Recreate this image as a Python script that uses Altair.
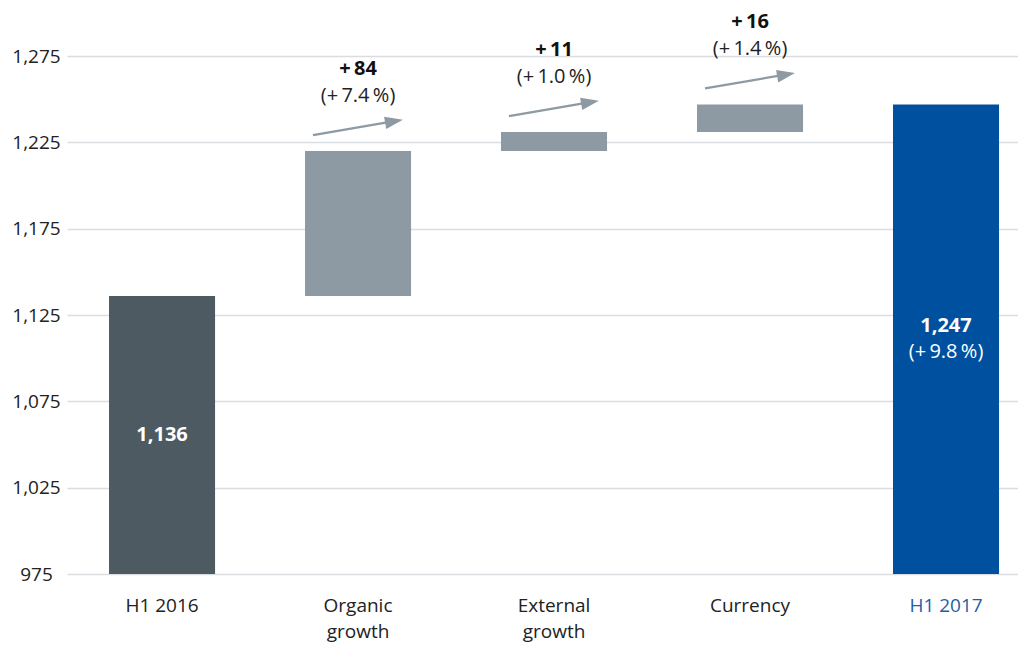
import altair as alt
import pandas as pd

categories = ["H1 2016", "Organic growth", "External growth", "Currency", "H1 2017"]
base_value = 1136
deltas = [84, 11, 16]
total_value = 1247
axis_floor = 975
delta_labels = ["+\u200984", "+\u200911", "+\u200916"]
pct_labels = ["(+\u20097.4\u2009%)", "(+\u20091.0\u2009%)", "(+\u20091.4\u2009%)"]
total_pct = "(+\u20099.8\u2009%)"
bar_colors = ["#4d5a61", "#8d9aa3", "#8d9aa3", "#8d9aa3", "#0050a0"]
y_ticks = [975, 1025, 1075, 1125, 1175, 1225, 1275]

# build bar table
starts, ends = [axis_floor], [base_value]
run = base_value
for d in deltas:
    starts.append(run)
    run += d
    ends.append(run)
starts.append(axis_floor)
ends.append(total_value)

bars_df = pd.DataFrame({"cat": categories, "start": starts, "end": ends})
steps_df = pd.DataFrame({
    "cat": categories[1:4],
    "top": ends[1:4],
    "dlab": delta_labels,
    "plab": pct_labels,
})
first_df = pd.DataFrame({
    "cat": ["H1 2016"],
    "mid": [(axis_floor + base_value) / 2],
    "main": ["1,136"],
})
last_df = pd.DataFrame({
    "cat": ["H1 2017"],
    "mid": [(axis_floor + total_value) / 2],
    "main": ["1,247"],
    "sub": [total_pct],
})

FONT = "Open Sans"
GRAY = "#8d9aa3"

xscale = alt.Scale(domain=categories, paddingInner=0.459, paddingOuter=0.1556, align=0.689)
yscale = alt.Scale(domain=[975, 1300], nice=False, zero=False)

x_enc = alt.X(
    "cat:N", scale=xscale, sort=categories, title=None,
    axis=alt.Axis(
        labelAngle=0, domain=False, ticks=False, labelPadding=22,
        labelFontSize=19, labelFont=FONT, labelLineHeight=26, labelBaseline="top",
        labelColor=alt.expr("datum.value == 'H1 2017' ? '#1f5ea8' : '#222222'"),
        labelExpr="indexof(datum.label, 'growth') > 0 ? split(datum.label, ' ') : datum.label",
    ),
)

def xc():
    return alt.X("cat:N", scale=xscale, sort=categories)

bars = alt.Chart(bars_df).mark_bar().encode(
    x=x_enc,
    y=alt.Y(
        "start:Q", scale=yscale, title=None,
        axis=alt.Axis(
            values=y_ticks, format=",d", domain=False, ticks=False, grid=True,
            gridColor="#d9dde1", gridWidth=1.5, labelAlign="center", labelPadding=31,
            labelFontSize=19, labelFont=FONT, labelColor="#222222",
        ),
    ),
    y2="end:Q",
    color=alt.Color("cat:N", scale=alt.Scale(domain=categories, range=bar_colors), legend=None),
)

arrows = alt.Chart(steps_df).mark_rule(
    color=GRAY, strokeWidth=2.3, xOffset=-45, x2Offset=32, yOffset=-16, y2Offset=-29.3
).encode(
    x=alt.X("cat:N", scale=xscale, sort=categories, bandPosition=0.5),
    x2=alt.X2("cat"),
    y=alt.Y("top:Q", scale=yscale),
    y2=alt.Y2("top"),
)

heads = alt.Chart(steps_df).mark_point(
    shape="M-1,-0.7L1,0L-1,0.7Z", filled=True, opacity=1, color=GRAY, size=324,
    angle=350, xOffset=36, yOffset=-29.8, strokeWidth=0,
).encode(
    x=xc(),
    y=alt.Y("top:Q", scale=yscale),
)

dtext = alt.Chart(steps_df).mark_text(
    font=FONT, fontSize=20, fontWeight="bold", color="#111111", yOffset=-82
).encode(x=xc(), y=alt.Y("top:Q", scale=yscale), text="dlab:N")

ptext = alt.Chart(steps_df).mark_text(
    font=FONT, fontSize=20, color="#222222", yOffset=-55
).encode(x=xc(), y=alt.Y("top:Q", scale=yscale), text="plab:N")

first_in = alt.Chart(first_df).mark_text(
    font=FONT, fontSize=20, fontWeight="bold", color="white"
).encode(x=xc(), y=alt.Y("mid:Q", scale=yscale), text="main:N")

last_main = alt.Chart(last_df).mark_text(
    font=FONT, fontSize=20, fontWeight="bold", color="white", yOffset=-13
).encode(x=xc(), y=alt.Y("mid:Q", scale=yscale), text="main:N")

last_sub = alt.Chart(last_df).mark_text(
    font=FONT, fontSize=20, color="white", yOffset=13
).encode(x=xc(), y=alt.Y("mid:Q", scale=yscale), text="sub:N")

chart = alt.layer(bars, arrows, heads, dtext, ptext, first_in, last_main, last_sub).properties(
    width=951, height=561,
    autosize=alt.AutoSizeParams(type="none"),
    padding={"left": 59, "top": 5, "right": 0, "bottom": 80},
).configure_view(stroke=None)

chart.save("out.html", embed_options={"renderer": "svg", "actions": False})
